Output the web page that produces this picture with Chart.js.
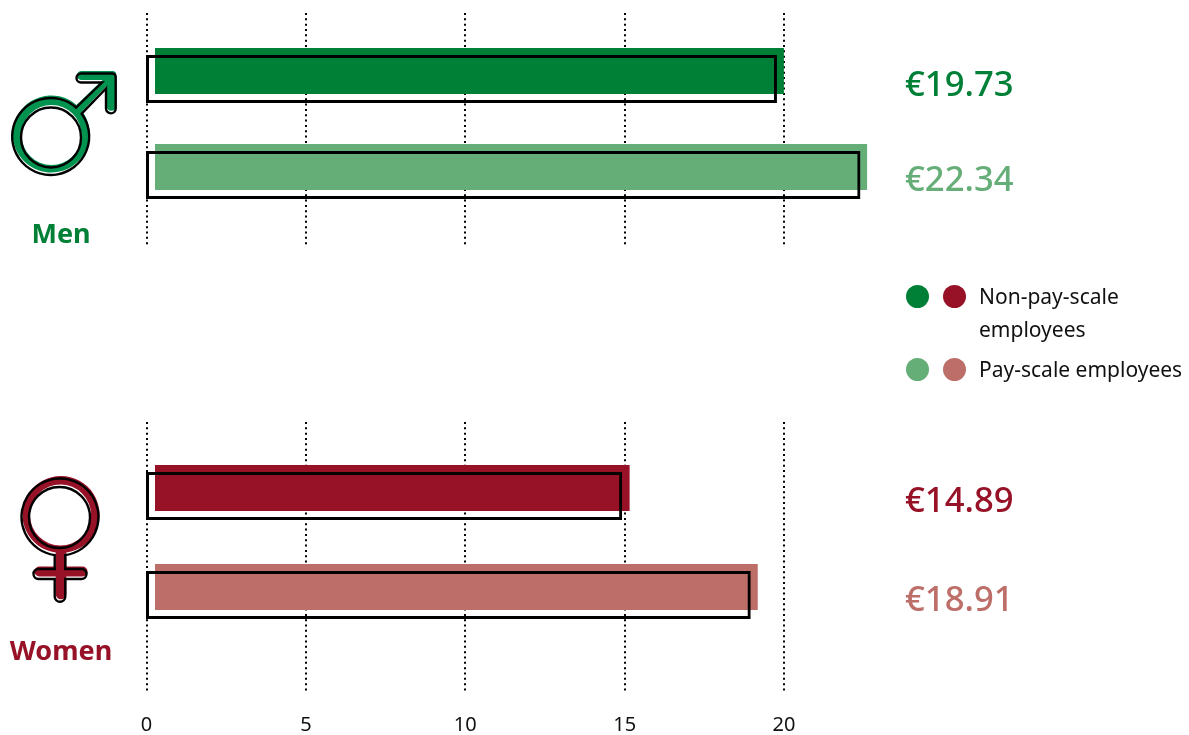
<!DOCTYPE html>
<html><head><meta charset="utf-8">
<script src="https://cdn.jsdelivr.net/npm/chart.js@4/dist/chart.umd.min.js"></script>
<style>
html,body{margin:0;padding:0;background:#fff;width:1189px;height:735px;overflow:hidden}
body{position:relative;font-family:"Noto Sans",sans-serif}
canvas{position:absolute;left:0}
.wrap{position:absolute;left:0;width:1189px}
.t{position:absolute;white-space:nowrap;line-height:1;transform:translateY(-50%)}
.val{left:905px;font-size:34.7px;font-weight:500}
.grp{font-size:27px;font-weight:700;transform:translate(-50%,-50%)}
.leg{left:979px;font-size:21px;color:#111}
.dot{position:absolute;width:23px;height:23px;border-radius:50%}
svg{position:absolute;left:0;top:0}
</style></head><body>
<div class="wrap" style="top:0;height:260px"><canvas id="top"></canvas></div>
<div class="wrap" style="top:400px;height:335px"><canvas id="bottom"></canvas></div>
<svg width="1189" height="735" viewBox="0 0 1189 735" fill="none">
 <defs>
  <path id="male" fill-rule="evenodd" d="M81.7 113.7A38.5 38.5 0 1 1 76 107.5L102 82.5H81A4.5 4.5 0 0 1 81 73.5H112Q115.7 73.5 115.7 77V108.5A4.85 4.85 0 0 1 106 108.5V88.5ZM81 137.5A30 30 0 1 0 21 137.5A30 30 0 1 0 81 137.5Z"/>
  <path id="female" fill-rule="evenodd" d="M54.7 555.1A38.5 38.5 0 1 1 65.3 555.1V569H81.5A5 5 0 0 1 81.5 579H65.3V596.5A5.3 5.3 0 0 1 54.7 596.5V579H38.5A5 5 0 0 1 38.5 569H54.7ZM90 517.5A30.5 30.5 0 1 0 29 517.5A30.5 30.5 0 1 0 90 517.5Z"/>
 </defs>
 <use href="#male" fill="#00924f" transform="translate(0.5,-2.5)"/>
 <use href="#male" stroke="#000" stroke-width="2.4"/>
 <use href="#female" fill="#971127" transform="translate(1,-2.5)"/>
 <use href="#female" stroke="#000" stroke-width="2.4"/>
</svg>
<div id="labels"></div>
<div class="dot" style="left:906px;top:285px;background:#008037"></div>
<div class="dot" style="left:943px;top:285px;background:#971127"></div>
<div class="dot" style="left:906px;top:358px;background:#66ae78"></div>
<div class="dot" style="left:943px;top:358px;background:#bd6e69"></div>
<div class="t leg" style="top:296px">Non-pay-scale</div>
<div class="t leg" style="top:329px">employees</div>
<div class="t leg" style="top:369px">Pay-scale employees</div>
<script>
const tickValues = [0, 5, 10, 15, 20];
const rows = [0, 1];
const menValues = [19.73, 22.34];
const womenValues = [14.89, 18.91];
const menColors = ["#008037", "#66ae78"];
const womenColors = ["#971127", "#bd6e69"];

const AREA_LEFT = 145, AREA_RIGHT = 943.375;
const GRID_ZERO = 146.5, FILL_ZERO = 155, PX_PER_UNIT = 31.875;
const OUTLINE_ZERO = 146, OUTLINE_PX = 31.98;
const SHIFT_Y = 8;

const axisRange = (zero, px) => ({ min: (AREA_LEFT - zero) / px, max: (AREA_RIGHT - zero) / px });

function build(id, w, h, values, colors, areaTop, areaBottom, firstRow, rowGap, showTicks) {
  const cv = document.getElementById(id);
  cv.width = w; cv.height = h;
  cv.style.width = w + "px"; cv.style.height = h + "px";
  const pts = values.map((v, i) => ({x: v, y: rows[i]}));
  const yMin = (areaTop - firstRow) / rowGap, yMax = (areaBottom - firstRow) / rowGap;
  const dy = SHIFT_Y / rowGap;
  const setTicks = s => { s.ticks = tickValues.map(v => ({value: v})); };
  new Chart(cv, {
    type: "bar",
    data: { datasets: [
      { data: pts, xAxisID: "xBar", yAxisID: "y", backgroundColor: "rgba(0,0,0,0)", borderColor: "#000",
        borderWidth: 3, borderSkipped: false, inflateAmount: 0, barThickness: 48, grouped: false },
      { data: pts, xAxisID: "xFill", yAxisID: "yFill", backgroundColor: colors, borderWidth: 0,
        inflateAmount: 0, barThickness: 46, grouped: false }
    ]},
    options: {
      indexAxis: "y", responsive: false, animation: false, devicePixelRatio: 1,
      layout: { padding: { left: AREA_LEFT, right: w - AREA_RIGHT, top: areaTop, bottom: showTicks ? 0 : h - areaBottom } },
      plugins: { legend: {display: false}, tooltip: {enabled: false} },
      scales: {
        x: { type: "linear", ...axisRange(GRID_ZERO, PX_PER_UNIT), afterBuildTicks: setTicks,
          afterFit: s => { s.height = showTicks ? h - areaBottom : 0; },
          border: {display: false, dash: [2, 3.33]},
          grid: { color: "#000", lineWidth: 2, drawTicks: false },
          ticks: { display: showTicks, padding: 20, maxRotation: 0, autoSkip: false, color: "#111",
            font: {family: "Noto Sans", size: 20}, callback: v => String(v) } },
        xBar: { type: "linear", display: false, ...axisRange(OUTLINE_ZERO, OUTLINE_PX) },
        xFill: { type: "linear", display: false, ...axisRange(FILL_ZERO, PX_PER_UNIT) },
        y: { type: "linear", display: false, reverse: true, offset: false, min: yMin, max: yMax },
        yFill: { type: "linear", display: false, reverse: true, offset: false, min: yMin + dy, max: yMax + dy }
      }
    }
  });
}
build("top", 1189, 260, menValues, menColors, 13, 245, 79, 96, false);
build("bottom", 1189, 335, womenValues, womenColors, 22, 293, 96, 99, true);

const labels = document.getElementById("labels");
function addText(cls, txt, color, left, top) {
  const d = document.createElement("div");
  d.className = "t " + cls; d.textContent = txt; d.style.color = color; d.style.top = top + "px";
  if (left !== null) d.style.left = left + "px";
  labels.appendChild(d);
}
const valueRows = [83, 178], valueRowsW = [499, 598];
menValues.forEach((v, i) => addText("val", "€" + v.toFixed(2), menColors[i], null, valueRows[i]));
womenValues.forEach((v, i) => addText("val", "€" + v.toFixed(2), womenColors[i], null, valueRowsW[i]));
addText("grp", "Men", menColors[0], 61, 232);
addText("grp", "Women", womenColors[0], 61, 649);
</script>
</body></html>
